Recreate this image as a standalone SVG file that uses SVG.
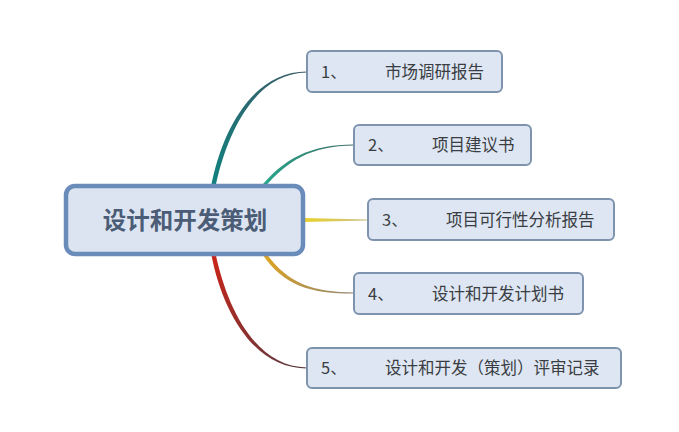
<svg xmlns="http://www.w3.org/2000/svg" width="679" height="432" viewBox="0 0 679 432">
<defs>
<style>
.leaf rect{fill:#dde6f2;stroke:#7d93ae;stroke-width:2}
.leaf text{font-family:"Noto Sans CJK SC","Liberation Sans",sans-serif;font-size:16.5px;fill:#3a3d42}
.root rect{fill:#dce4f1;stroke:#6a8cbb;stroke-width:4.5}
.root text{font-family:"Noto Sans CJK SC","Liberation Sans",sans-serif;font-size:23.5px;font-weight:bold;fill:#4b5c76;text-anchor:middle}
</style>
<linearGradient id="g1" gradientUnits="userSpaceOnUse" x1="213" y1="186" x2="307" y2="72"><stop offset="0" stop-color="#10827f"/><stop offset="1" stop-color="#3a5a66"/></linearGradient>
<linearGradient id="g2" gradientUnits="userSpaceOnUse" x1="262" y1="186" x2="354" y2="145"><stop offset="0" stop-color="#27a88a"/><stop offset="1" stop-color="#3d6e6a"/></linearGradient>
<linearGradient id="g3" gradientUnits="userSpaceOnUse" x1="304" y1="220" x2="368" y2="220"><stop offset="0" stop-color="#ead22a"/><stop offset="1" stop-color="#c9c08a"/></linearGradient>
<linearGradient id="g4" gradientUnits="userSpaceOnUse" x1="263" y1="254" x2="354" y2="293"><stop offset="0" stop-color="#e0a520"/><stop offset="1" stop-color="#8f8470"/></linearGradient>
<linearGradient id="g5" gradientUnits="userSpaceOnUse" x1="213" y1="254" x2="307" y2="368"><stop offset="0" stop-color="#cc2418"/><stop offset="1" stop-color="#5a3a40"/></linearGradient>
</defs>
<rect width="679" height="432" fill="#ffffff"/>
<g id="connectors">
<path d="M210.8,188 C222,128 254,71.3 307,71.4 L307,72.6 C256,72.8 227,131 215.2,188 Z" fill="url(#g1)"/>
<path d="M259.8,188 C283,159 310,144.4 354,144.4 L354,145.6 C311,145.8 287,161 264.2,188 Z" fill="url(#g2)"/>
<path d="M304,218 L368,219.5 L368,220.5 L304,222 Z" fill="url(#g3)"/>
<path d="M260.8,252 C283,286 310,293.6 354,293.6 L354,292.4 C312,292.2 287,283 265.2,252 Z" fill="url(#g4)"/>
<path d="M210.8,252 C222,312 254,368.6 307,368.6 L307,367.4 C256,367.2 227,309 215.2,252 Z" fill="url(#g5)"/>
</g>
<g id="root" class="root">
<rect x="66" y="186" width="237" height="68" rx="9"/>
<text x="185" y="229">设计和开发策划</text>
</g>
<g id="n1" class="leaf">
<rect x="307" y="51" width="195" height="41" rx="5"/>
<text x="321" y="77.5">1、</text><text x="385" y="77.5">市场调研报告</text>
</g>
<g id="n2" class="leaf">
<rect x="354" y="125" width="177" height="40" rx="5"/>
<text x="368" y="151">2、</text><text x="432" y="151">项目建议书</text>
</g>
<g id="n3" class="leaf">
<rect x="368" y="199" width="246" height="41" rx="5"/>
<text x="382" y="225.5">3、</text><text x="446" y="225.5">项目可行性分析报告</text>
</g>
<g id="n4" class="leaf">
<rect x="354" y="273" width="229" height="41" rx="5"/>
<text x="368" y="299.5">4、</text><text x="432" y="299.5">设计和开发计划书</text>
</g>
<g id="n5" class="leaf">
<rect x="307" y="348" width="314" height="40" rx="5"/>
<text x="321" y="374">5、</text><text x="385" y="374">设计和开发（策划）评审记录</text>
</g>
</svg>
